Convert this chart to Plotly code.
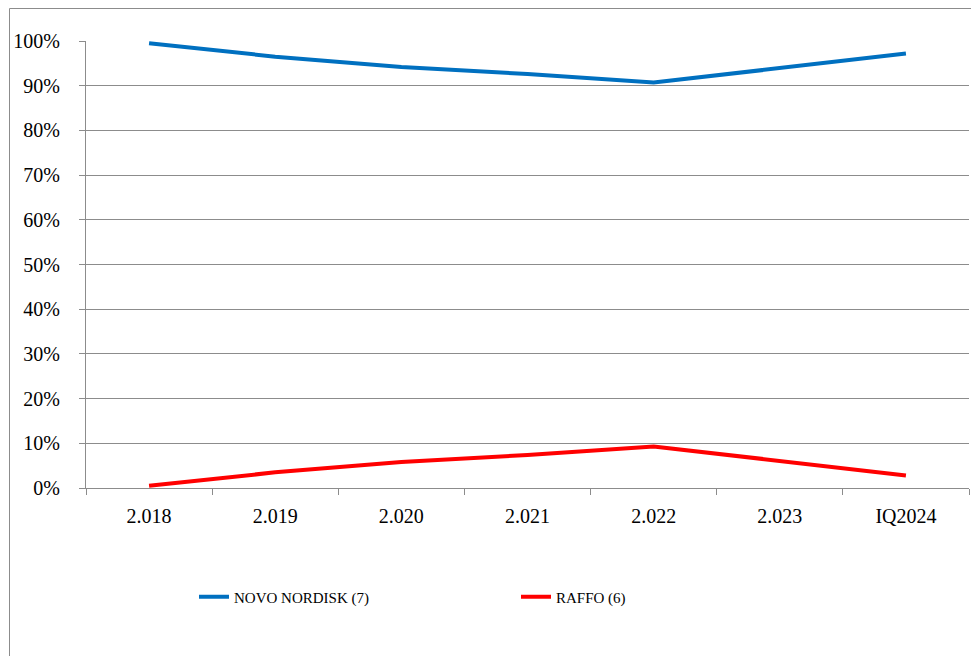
import plotly.graph_objects as go

categories = ["2.018", "2.019", "2.020", "2.021", "2.022", "2.023", "IQ2024"]
novo_nordisk = [0.995, 0.965, 0.942, 0.926, 0.907, 0.939, 0.972]
raffo = [0.005, 0.035, 0.058, 0.074, 0.093, 0.061, 0.028]
y_ticks = [0, 0.1, 0.2, 0.3, 0.4, 0.5, 0.6, 0.7, 0.8, 0.9, 1.0]
y_tick_labels = ["0%", "10%", "20%", "30%", "40%", "50%", "60%", "70%", "80%", "90%", "100%"]

FONT = "Liberation Serif"

fig = go.Figure()
fig.add_trace(go.Scatter(x=categories, y=novo_nordisk, mode="lines", name="NOVO NORDISK (7)",
                         line=dict(color="#0070C0", width=4)))
fig.add_trace(go.Scatter(x=categories, y=raffo, mode="lines", name="RAFFO (6)",
                         line=dict(color="#FF0000", width=4)))

# page body has an 8px margin, so figure coordinates are offset by 8px
OFF = 8
W, H = 979, 656
L, T = 86 - OFF, 41 - OFF
R = W - (969 - OFF)
B = H - (488 - OFF)
pw = W - L - R
ph = H - T - B

def px_x(sx):
    return (sx - OFF - L) / pw

def px_y(sy):
    return (H - B - (sy - OFF)) / ph

fig.update_layout(
    width=W, height=H,
    margin=dict(l=L, r=R, t=T, b=B, pad=0, autoexpand=False),
    paper_bgcolor="white", plot_bgcolor="white",
    font=dict(family=FONT, size=20, color="black"),
    showlegend=True,
    legend=dict(orientation="h", x=px_x(194), xanchor="left", y=px_y(597), yanchor="middle",
                font=dict(family=FONT, size=15, color="black"), entrywidth=277, entrywidthmode="pixels",
                itemwidth=30, bgcolor="rgba(0,0,0,0)"),
    xaxis=dict(type="category", range=[-0.5, len(categories) - 0.5], tickson="boundaries", ticks="outside",
               ticklen=6, tickcolor="#8c8c8c", automargin=False,
               tickfont=dict(family=FONT, size=20, color="black"),
               showline=True, linecolor="#8c8c8c", linewidth=1, showgrid=False, zeroline=False,
               ticklabelstandoff=10, fixedrange=True),
    yaxis=dict(range=[0, 1], tickvals=y_ticks, ticktext=y_tick_labels, ticks="outside", ticklen=6,
               tickcolor="#8c8c8c", showline=True, linecolor="#8c8c8c", linewidth=1, automargin=False,
               tickfont=dict(family=FONT, size=20, color="black"),
               showgrid=True, gridcolor="#8c8c8c", gridwidth=1, zeroline=False,
               ticklabelstandoff=15, fixedrange=True),
    shapes=[dict(type="rect", xref="paper", yref="paper",
                 x0=px_x(9.5), x1=px_x(W + 30),
                 y0=px_y(H + 30), y1=px_y(8.5),
                 line=dict(color="#8c8c8c", width=1), fillcolor="rgba(0,0,0,0)", layer="below")],
)

fig.write_html("out.html")
